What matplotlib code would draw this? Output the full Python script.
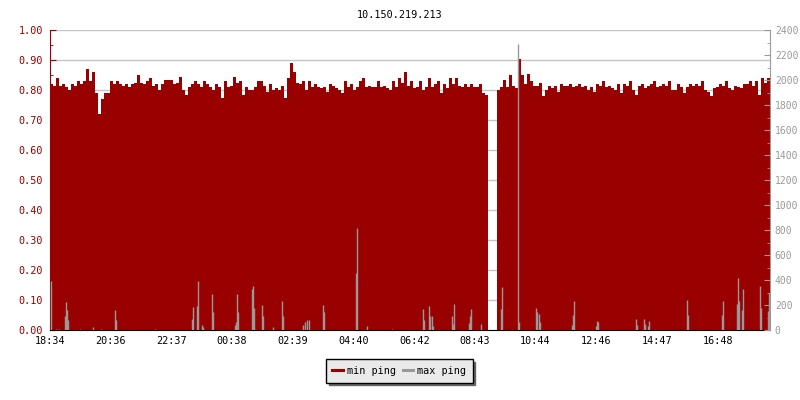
import numpy as np
import matplotlib
matplotlib.use('Agg')
import matplotlib.pyplot as plt
from matplotlib.ticker import MultipleLocator, FormatStrFormatter

# Chart data
title = '10.150.219.213'

# min ping, one value per 6 minutes starting at 18:34 (left axis); nan = no data
min_ping = [
    0.82, 0.815, 0.84, 0.815, 0.82, 0.81, 0.80, 0.82, 0.815, 0.83,
    0.82, 0.83, 0.87, 0.83, 0.86, 0.79, 0.72, 0.77, 0.79, 0.79,
    0.83, 0.82, 0.83, 0.82, 0.815, 0.82, 0.81, 0.82, 0.825, 0.85,
    0.825, 0.82, 0.83, 0.84, 0.815, 0.82, 0.80, 0.82, 0.835, 0.835,
    0.835, 0.82, 0.825, 0.845, 0.80, 0.785, 0.81, 0.82,
    0.83, 0.82, 0.81, 0.83, 0.82, 0.81, 0.80, 0.82, 0.81, 0.775,
    0.83, 0.81, 0.815, 0.845, 0.825, 0.83, 0.785, 0.81, 0.80, 0.80,
    0.81, 0.83, 0.83, 0.815, 0.795, 0.82, 0.80, 0.805, 0.80, 0.815,
    0.775, 0.84, 0.89, 0.86, 0.825, 0.82, 0.83, 0.80, 0.83, 0.81,
    0.82, 0.81, 0.805, 0.81, 0.795, 0.82, 0.815, 0.805,
    0.80, 0.79, 0.83, 0.81, 0.82, 0.80, 0.81, 0.83, 0.84, 0.81,
    0.815, 0.81, 0.81, 0.83, 0.81, 0.815, 0.805, 0.80, 0.83, 0.81,
    0.84, 0.825, 0.86, 0.815, 0.83, 0.805, 0.81, 0.83, 0.80, 0.81,
    0.84, 0.81, 0.82, 0.83, 0.79, 0.82, 0.805, 0.84, 0.82, 0.84,
    0.815, 0.81, 0.82, 0.81, 0.82, 0.81, 0.81, 0.82,
    0.79, 0.785, np.nan, np.nan, np.nan, 0.80, 0.81, 0.835, 0.81, 0.85,
    0.815, 0.805, 0.905, 0.85, 0.82, 0.855, 0.83, 0.815, 0.815, 0.825,
    0.78, 0.80, 0.815, 0.805, 0.815, 0.795, 0.82, 0.815, 0.815, 0.82,
    0.81, 0.815, 0.82, 0.81, 0.815, 0.80, 0.81, 0.795, 0.82, 0.815,
    0.83, 0.81, 0.815, 0.805, 0.80, 0.82, 0.79, 0.82,
    0.815, 0.83, 0.80, 0.785, 0.815, 0.82, 0.805, 0.815, 0.82, 0.83,
    0.81, 0.815, 0.82, 0.815, 0.83, 0.80, 0.80, 0.82, 0.81, 0.79,
    0.81, 0.82, 0.815, 0.82, 0.815, 0.83, 0.80, 0.795, 0.78, 0.805,
    0.81, 0.82, 0.815, 0.83, 0.805, 0.80, 0.815, 0.81, 0.805, 0.82,
    0.82, 0.83, 0.815, 0.83, 0.785, 0.84, 0.825, 0.84,
]
bin_hours = 0.1

# max ping spikes (right axis): hours after 18:34 and value
max_hours = [
    0.03, 0.2, 0.3, 0.5, 0.53, 0.57, 0.6, 1.0, 1.43, 1.7, 2.17, 2.2, 3.5,
    4.73, 4.77, 4.9, 4.93, 5.07, 5.1, 5.4, 5.43, 6.17, 6.2, 6.23, 6.27,
    6.73, 6.77, 6.8, 7.07, 7.1, 7.43, 7.73, 7.77, 8.43, 8.5, 8.57, 8.63,
    9.1, 9.13, 10.2, 10.23, 10.57, 11.4, 12.43, 12.47, 12.63, 12.67, 12.73,
    12.77, 13.4, 13.43, 13.47, 13.97, 14.0, 14.03, 14.37, 15.03, 15.07,
    15.6, 15.63, 16.2, 16.23, 16.3, 16.33, 17.4, 17.43, 17.47, 18.2, 18.23,
    18.27, 19.53, 19.57, 19.8, 19.83, 19.93, 19.97, 21.23, 21.27, 22.4,
    22.43, 22.9, 22.93, 22.97, 23.07, 23.1, 23.67, 23.7, 23.93, 23.97,
]
max_ping = [
    390, 12, 10, 112, 224, 160, 80, 12, 21, 10, 160, 80, 12,
    85, 181, 192, 392, 40, 21, 288, 144, 40, 64, 288, 144,
    325, 352, 176, 200, 110, 21, 232, 112, 40, 64, 80, 80,
    200, 144, 456, 820, 32, 12, 168, 80, 192, 112, 112,
    30, 112, 48, 208, 53, 112, 168, 48, 168, 341,
    2288, 67, 176, 144, 128, 64, 40, 120, 232, 30, 72,
    64, 88, 40, 88, 48, 32, 72, 240, 120, 120,
    232, 208, 416, 232, 160, 328, 352, 176, 152, 293,
]

tick_labels = ['18:34', '20:36', '22:37', '00:38', '02:39', '04:40',
               '06:42', '08:43', '10:44', '12:46', '14:47', '16:48']
tick_step_hours = 121.4 / 60

red = '#990000'
gray = '#999999'
font = 'DejaVu Sans Mono'
plt.rcParams['font.family'] = font
fs = 7

fig = plt.figure(figsize=(8, 4), dpi=100)
ax = fig.add_axes([0.0625, 0.175, 0.9, 0.75])
ax2 = ax.twinx()

# min ping as filled bars on the left axis
t = np.arange(len(min_ping)) * bin_hours
ax.bar(t, min_ping, width=bin_hours, align='edge', color=red,
       linewidth=0, antialiased=False, zorder=2)

# max ping spikes on the right axis, drawn on top
ax2.vlines(max_hours, 0, max_ping, color=gray, linewidth=1.0)

ax.set_xlim(0, 24)
ax.set_ylim(0, 1.0)
ax2.set_ylim(0, 2400)

# grid
ax.set_axisbelow(True)
ax.yaxis.grid(True, color='#c4c4c4', linewidth=1.0)
ax.xaxis.grid(False)

# left axis
ax.yaxis.set_major_locator(MultipleLocator(0.1))
ax.yaxis.set_minor_locator(MultipleLocator(0.05))
ax.yaxis.set_major_formatter(FormatStrFormatter('%.2f'))
ax.tick_params(axis='y', which='both', direction='in', colors=red,
               labelsize=fs + 0.3, pad=5)
ax.tick_params(axis='y', which='major', length=4)
ax.tick_params(axis='y', which='minor', length=2.5)

# right axis
ax2.yaxis.set_major_locator(MultipleLocator(200))
ax2.yaxis.set_minor_locator(MultipleLocator(100))
ax2.tick_params(axis='y', which='both', direction='in', colors=gray,
                labelsize=fs, pad=3.5)
ax2.tick_params(axis='y', which='major', length=4)
ax2.tick_params(axis='y', which='minor', length=2.5)

# bottom axis
ax.set_xticks(np.arange(len(tick_labels)) * tick_step_hours)
ax.set_xticklabels(tick_labels)
ax.tick_params(axis='x', direction='in', colors='black', length=4,
               labelsize=fs + 0.3, pad=4)

# spines
for a in (ax, ax2):
    a.spines['top'].set_visible(False)
ax.spines['right'].set_visible(False)
ax2.spines['left'].set_visible(False)
ax2.spines['bottom'].set_visible(False)
ax.spines['left'].set_color(red)
ax2.spines['right'].set_color(gray)
ax.spines['bottom'].set_color('black')

fig.text(0.5, 0.962, title, ha='center', va='center', fontsize=fs + 0.3)

# legend below the plot
handles = [plt.Line2D([], [], color=red, linewidth=2.2),
           plt.Line2D([], [], color=gray, linewidth=2.2)]
leg = fig.legend(handles, ['min ping', 'max ping'], loc='center',
                 bbox_to_anchor=(0.499, 0.0725), ncol=2, fontsize=fs + 0.3,
                 frameon=True, fancybox=False,
                 shadow={'color': '#666666', 'alpha': 1},
                 framealpha=1, facecolor='#eaeaea', edgecolor='black',
                 handlelength=1.0, handletextpad=0.4, columnspacing=0.7,
                 borderpad=0.65, borderaxespad=0)
leg.get_frame().set_linewidth(1.0)
leg._legend_box.sep = 6

fig.savefig('out.png', dpi=100)
